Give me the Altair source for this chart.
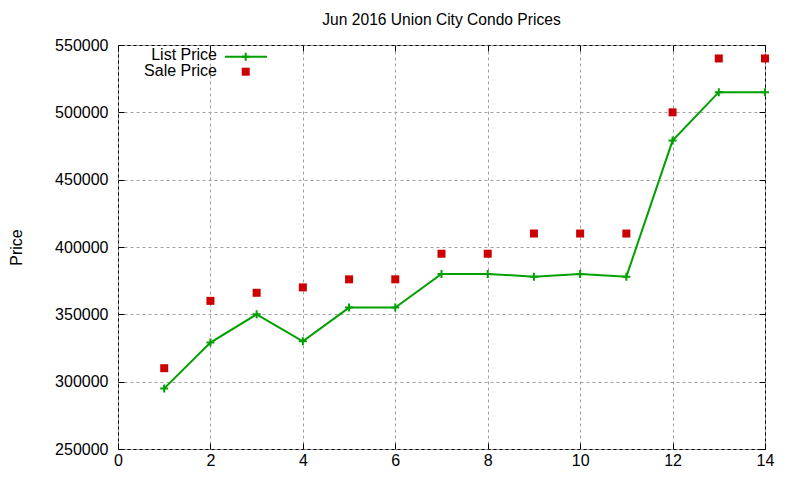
import altair as alt
import pandas as pd

# values
days = list(range(1, 15))
list_price = [295000, 329000, 350000, 330000, 355000, 355000, 380000,
              380000, 378000, 380000, 378000, 479000, 515000, 515000]
sale_price = [310000, 360000, 366000, 370000, 376000, 376000, 395000,
              395000, 410000, 410000, 410000, 500000, 540000, 540000]
x_ticks = [0, 2, 4, 6, 8, 10, 12, 14]
y_ticks = [250000, 300000, 350000, 400000, 450000, 500000, 550000]

df = pd.DataFrame({"day": days, "list": list_price, "sale": sale_price})

FONT = "Liberation Sans"
GREEN = "#00a000"
RED = "#cc0000"
PLUS = "M-1,0L1,0M0,-1L0,1"

xs = alt.Scale(domain=[0, 14], nice=False, zero=False)
ys = alt.Scale(domain=[250000, 550000], nice=False, zero=False)

grid = dict(grid=True, gridColor="#a0a0a0", gridDash=[3, 3], gridWidth=1)

# labels + grid
base = alt.Chart(df)
line = base.mark_line(color=GREEN, strokeWidth=2).encode(
    x=alt.X("day:Q", scale=xs, axis=alt.Axis(
        values=x_ticks, ticks=False, tickSize=0, domain=False, labelPadding=3,
        labelFlush=False, title="", **grid)),
    y=alt.Y("list:Q", scale=ys, axis=alt.Axis(
        values=y_ticks, ticks=False, tickSize=0, domain=False, labelPadding=10,
        labelFlush=False, format="d", title="Price", titleX=-102, titleY=202,
        titleAngle=270, titleAlign="center", titleBaseline="middle",
        titleFontWeight="normal", titleFontSize=16, **grid)),
)

# inward ticks bottom/left
plus = base.mark_point(shape=PLUS, size=64, color=GREEN, strokeWidth=2,
                       filled=False, opacity=1).encode(
    x=alt.X("day:Q", scale=xs, axis=alt.Axis(
        orient="bottom", offset=-6, values=x_ticks, tickSize=6, tickColor="black",
        labels=False, domain=False, grid=False, title="")),
    y=alt.Y("list:Q", scale=ys, axis=alt.Axis(
        orient="left", offset=-6, values=y_ticks, tickSize=6, tickColor="black",
        labels=False, domain=False, grid=False, title="")),
)

# inward ticks top/right
sale = base.mark_point(shape="square", size=64, color=RED, filled=True,
                       opacity=1).encode(
    x=alt.X("day:Q", scale=xs, axis=alt.Axis(
        orient="top", offset=-6, values=x_ticks, tickSize=6, tickColor="black",
        labels=False, domain=False, grid=False, title="")),
    y=alt.Y("sale:Q", scale=ys, axis=alt.Axis(
        orient="right", offset=-6, values=y_ticks, tickSize=6, tickColor="black",
        labels=False, domain=False, grid=False, title="")),
)

# key, top left like gnuplot
one = pd.DataFrame({"a": [0]})
k = alt.Chart(one)
key_txt1 = k.mark_text(text="List Price", align="right", baseline="alphabetic",
                       font=FONT, fontSize=16, color="black").encode(
    x=alt.value(99), y=alt.value(15))
key_txt2 = k.mark_text(text="Sale Price", align="right", baseline="alphabetic",
                       font=FONT, fontSize=16, color="black").encode(
    x=alt.value(99), y=alt.value(31))
key_line = k.mark_rule(color=GREEN, strokeWidth=2).encode(
    x=alt.value(107), x2=alt.value(149), y=alt.value(11.7))
key_plus = k.mark_point(shape=PLUS, size=64, color=GREEN, strokeWidth=2,
                        filled=False, opacity=1).encode(
    x=alt.value(127.7), y=alt.value(11.7))
key_sq = k.mark_point(shape="square", size=64, color=RED, filled=True,
                      opacity=1).encode(
    x=alt.value(127.7), y=alt.value(26.7))

chart = alt.layer(
    line, plus, sale, key_txt1, key_txt2, key_line, key_plus, key_sq
).resolve_axis(
    x="independent", y="independent"
).properties(
    width=647, height=404,
    title=alt.TitleParams("Jun 2016 Union City Condo Prices", font=FONT,
                          fontSize=15.6, fontWeight="normal", color="black",
                          offset=8),
    autosize=alt.AutoSizeParams(type="none"),
    padding={"left": 110, "top": 37, "right": 27, "bottom": 20},
).configure_view(
    stroke="black", strokeWidth=1
).configure_axis(
    labelFont=FONT, labelFontSize=16, labelColor="black", titleFont=FONT,
    titleColor="black"
)

chart.save("out.html", embed_options={"renderer": "svg", "actions": False})
